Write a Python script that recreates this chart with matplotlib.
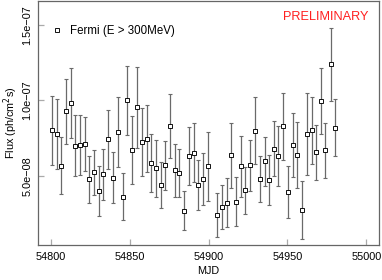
import matplotlib
matplotlib.use("Agg")
import matplotlib.pyplot as plt
import numpy as np

# MJD of each bin
mjd = [54800.9, 54803.8, 54806.8, 54809.7, 54812.6, 54815.6, 54818.5, 54821.5,
       54824.6, 54827.6, 54830.5, 54833.4, 54836.6, 54839.6, 54842.5, 54845.7,
       54848.4, 54851.7, 54854.7, 54857.9, 54860.8, 54863.7, 54866.7, 54869.7,
       54872.6, 54875.5, 54878.7, 54881.6, 54884.5, 54887.7, 54890.7, 54893.6,
       54896.5, 54899.5, 54905.6, 54908.5, 54911.5, 54914.4, 54917.4, 54920.3,
       54923.3, 54926.4, 54929.6, 54932.5, 54935.5, 54938.4, 54941.3, 54944.3,
       54947.3, 54950.4, 54953.3, 54956.3, 54959.2, 54962.4, 54965.3, 54968.3,
       54971.2, 54974.1, 54977.3, 54980.3]

# flux in units of 1e-8 ph/cm2/s
flux = [8.02, 7.75, 5.67, 9.27, 9.85, 7.00, 7.02, 7.09, 4.75, 5.22, 3.98, 5.09,
        7.42, 4.87, 7.89, 3.62, 10.00, 6.71, 9.55, 7.25, 7.47, 5.85, 5.49, 4.38,
        5.69, 8.31, 5.35, 5.18, 2.67, 6.31, 6.53, 4.38, 4.78, 5.62, 2.40, 2.93,
        3.22, 6.35, 3.27, 5.62, 4.02, 5.69, 8.00, 4.78, 5.95, 4.69, 6.80, 6.31,
        8.29, 3.93, 7.02, 6.38, 2.71, 7.78, 8.02, 6.55, 9.95, 6.69, 12.40, 8.20]

flux_err = [2.29, 2.33, 1.91, 2.17, 2.33, 2.00, 2.00, 1.80, 1.57, 1.50, 1.64, 1.69,
            1.96, 1.71, 2.32, 1.56, 2.29, 2.23, 2.68, 2.25, 2.25, 1.92, 1.87, 1.51,
            1.63, 2.11, 1.75, 1.58, 1.30, 1.93, 1.98, 1.66, 1.73, 2.28, 1.45, 1.45,
            1.64, 2.17, 1.62, 2.05, 1.59, 1.70, 2.23, 1.52, 1.61, 1.66, 1.81, 2.00,
            2.22, 1.73, 2.13, 2.20, 1.92, 2.71, 2.23, 1.81, 2.19, 1.84, 2.44, 1.87]

xticks = [54800, 54850, 54900, 54950, 55000]
yticks = [5e-8, 1e-7, 1.5e-7]
ytick_labels = ["5.0e\u221208", "1.0e\u221207", "1.5e\u221207"]

plt.rcParams['font.family'] = ['Liberation Sans', 'DejaVu Sans']

fig = plt.figure(figsize=(3.82, 2.80), dpi=100)
ax = fig.add_axes([38 / 382, 35 / 280, 341 / 382, 244 / 280])

y = np.array(flux) * 1e-8
yerr = np.array(flux_err) * 1e-8

ax.errorbar(mjd, y, yerr=yerr, fmt='none', ecolor='#6a6a6a', elinewidth=0.9,
            capsize=1.3, capthick=0.8)
ax.plot(mjd, y, 's', mfc='white', mec='black', ms=3.0, mew=0.65,
        label='Fermi (E > 300MeV)')

ax.set_xlim(54792, 55008)
ax.set_ylim(0.4e-8, 16.6e-8)
ax.set_xticks(xticks)
ax.set_xticklabels([str(t) for t in xticks], fontsize=7.8)
ax.set_yticks(yticks)
ax.set_yticklabels(ytick_labels, fontsize=7.8, rotation=90, va='center')
ax.tick_params(direction='in', length=4, color='#aaaaaa', width=0.9, pad=4)
ax.tick_params(axis='x', pad=5)

for s in ax.spines.values():
    s.set_color('#666666')
    s.set_linewidth(0.9)

ax.set_xlabel('MJD', fontsize=7.8, labelpad=3)
ax.set_ylabel('Flux (ph/cm$^{2}$s)', fontsize=7.8, labelpad=2)

ax.legend(loc='upper left', bbox_to_anchor=(0.012, 0.935), frameon=False,
          fontsize=8.3, handlelength=1.2, handletextpad=0.5, borderaxespad=0.3)

ax.text(0.97, 0.935, 'PRELIMINARY', color='#ff2020', fontsize=9.2,
        ha='right', va='center', transform=ax.transAxes)

fig.savefig('out.png', dpi=100)
